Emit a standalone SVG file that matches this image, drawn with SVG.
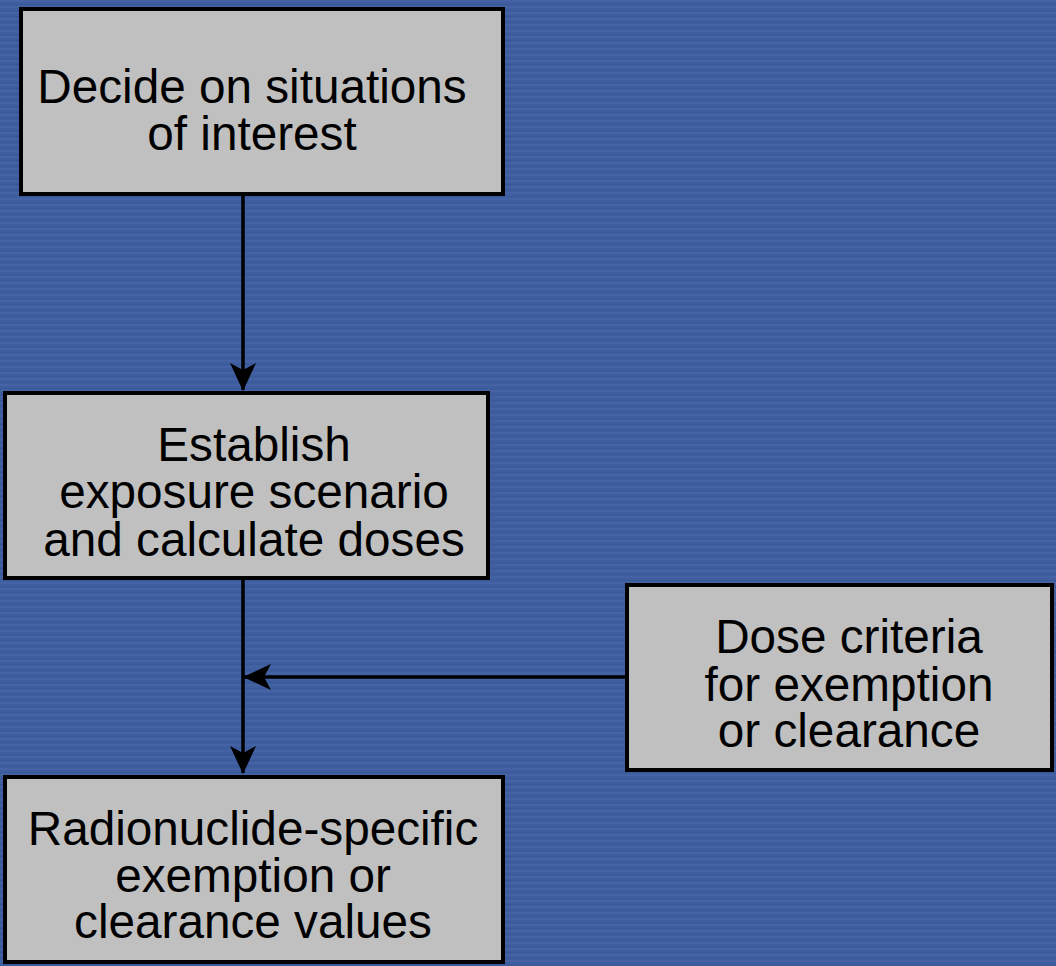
<svg xmlns="http://www.w3.org/2000/svg" width="1056" height="966" viewBox="0 0 1056 966">
<style>
.box{fill:#c0c0c0;stroke:#000;stroke-width:4}
.lbl{font-family:"Liberation Sans",Arial,sans-serif;font-size:47.7px;fill:#000;text-anchor:middle}
.conn{stroke:#000;stroke-width:3.5;fill:none}
</style>
<defs>
<pattern id="bg" width="8" height="6" patternUnits="userSpaceOnUse">
<rect width="8" height="6" fill="#3f5e9f"/>
<rect y="0" width="8" height="2" fill="#4563a4"/>
<rect y="4" width="8" height="1" fill="#3a5998"/>
</pattern>
<marker id="ah" viewBox="0 0 28 26" refX="27" refY="13" markerWidth="28" markerHeight="26" markerUnits="userSpaceOnUse" orient="auto">
<path d="M0,0 L28,13 L0,26 L7,13 z" fill="#000"/>
</marker>
</defs>
<rect width="1056" height="966" fill="url(#bg)"/>
<g id="connectors">
<line class="conn" x1="243" y1="196" x2="243" y2="390" marker-end="url(#ah)"/>
<line class="conn" x1="243" y1="580" x2="243" y2="773" marker-end="url(#ah)"/>
<line class="conn" x1="626" y1="677" x2="244" y2="677" marker-end="url(#ah)"/>
</g>
<g id="node-decide">
<rect class="box" x="21" y="9" width="482" height="185"/>
<text class="lbl"><tspan x="252" y="103">Decide on situations</tspan><tspan x="252" y="150">of interest</tspan></text>
</g>
<g id="node-establish">
<rect class="box" x="5" y="393" width="483" height="185"/>
<text class="lbl"><tspan x="254" y="461">Establish</tspan><tspan x="254" y="508">exposure scenario</tspan><tspan x="254" y="556">and calculate doses</tspan></text>
</g>
<g id="node-criteria">
<rect class="box" x="627" y="585" width="425" height="185"/>
<text class="lbl"><tspan x="849" y="653">Dose criteria</tspan><tspan x="849" y="701">for exemption</tspan><tspan x="849" y="747">or clearance</tspan></text>
</g>
<g id="node-values">
<rect class="box" x="5" y="777" width="498" height="185"/>
<text class="lbl"><tspan x="253" y="845">Radionuclide-specific</tspan><tspan x="253" y="892">exemption or</tspan><tspan x="253" y="938">clearance values</tspan></text>
</g>
</svg>
